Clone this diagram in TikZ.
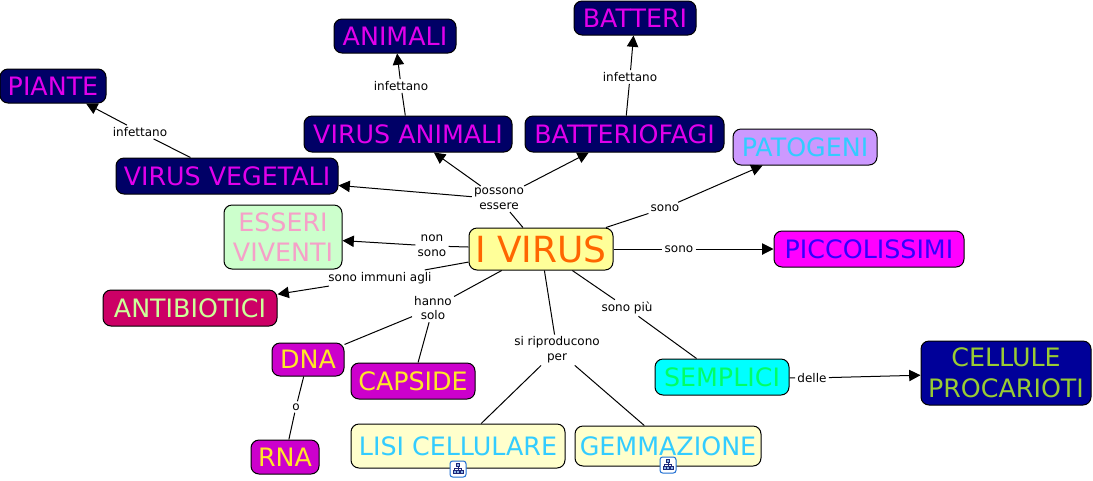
\documentclass[tikz,border=0pt]{standalone}
\usepackage{xcolor}
\usepackage{fontspec}
\setmainfont{DejaVu Sans}
\usetikzlibrary{arrows.meta}
\definecolor{mynavy}{RGB}{0,0,102}
\definecolor{mymagenta}{RGB}{225,0,235}
\definecolor{hdrmint}{RGB}{204,255,204}
\definecolor{mypink}{RGB}{245,160,200}
\definecolor{hdryellow}{RGB}{255,255,153}
\definecolor{myorange}{RGB}{255,102,0}
\definecolor{hdrfuchsia}{RGB}{255,0,255}
\definecolor{myblue}{RGB}{51,0,255}
\definecolor{hdrlilac}{RGB}{204,153,255}
\definecolor{mysky}{RGB}{51,204,255}
\definecolor{hdrcrimson}{RGB}{204,0,102}
\definecolor{mycream}{RGB}{204,255,153}
\definecolor{hdrpurple}{RGB}{204,0,204}
\definecolor{mygold}{RGB}{255,230,40}
\definecolor{hdrcyan}{RGB}{0,255,255}
\definecolor{mygreen}{RGB}{0,255,102}
\definecolor{hdrblue}{RGB}{0,0,153}
\definecolor{myolive}{RGB}{153,204,51}
\definecolor{hdrcream}{RGB}{255,255,204}
\definecolor{myicon}{RGB}{30,110,210}
\definecolor{myicondark}{RGB}{30,40,120}
\tikzset{
  concept/.style={rectangle, draw=black, line width=0.75pt, inner sep=0pt,
    rounded corners=6pt, align=center,
    font=\fontsize{19}{23}\selectfont},
  navybox/.style={concept, fill=mynavy, text=mymagenta},
  purplebox/.style={concept, fill=hdrpurple, text=mygold},
  creambox/.style={concept, fill=hdrcream, text=mysky},
  linklabel/.style={inner sep=1.5pt, align=center,
    font=\fontsize{9}{11}\selectfont},
  arrow/.style={-{Triangle[length=8.5pt,width=8.5pt]}, line width=0.75pt},
  line/.style={line width=0.75pt},
  iconbox/.style={rectangle, draw=myicon, fill=white, line width=0.75pt,
    rounded corners=2pt, minimum size=12pt, inner sep=0pt},
  iconpart/.style={draw=myicondark, line width=0.5pt}
}
\newcommand{\hierarchyicon}[1]{%
  \begin{scope}[shift={(#1)}, iconpart]
    \draw[fill=myicon!50] (-1.6,-5.5) rectangle (1.6,-2.5);
    \draw (0,-2.5) -- (0,-0.5) (-3.5,1.5) -- (-3.5,-0.5) -- (3.5,-0.5) -- (3.5,1.5);
    \draw (0,-0.5) -- (0,1.5);
    \draw[fill=myicon!50] (-5,1.5) rectangle (-2,4.5);
    \draw[fill=myicon!50] (2,1.5) rectangle (5,4.5);
    \draw[fill=myicon!50] (-1.2,1.5) rectangle (1.2,4);
  \end{scope}}

\begin{document}
\begin{tikzpicture}[x=0.75pt, y=-0.75pt]
  \useasboundingbox (0,0) rectangle (1093,480);

  % ── Centre ─────────────────────────────────────────────────────────
  \node[concept, fill=hdryellow, text=myorange, font=\fontsize{27}{30}\selectfont,
    minimum width=108pt, minimum height=31.5pt] (virus) at (541,249) {I VIRUS};

  % ── Upper concepts ─────────────────────────────────────────────────
  \node[navybox, minimum width=79.5pt, minimum height=25.5pt] (piante) at (53,86) {PIANTE};
  \node[navybox, minimum width=91.5pt, minimum height=25.5pt] (animali) at (395,36) {ANIMALI};
  \node[navybox, minimum width=91.5pt, minimum height=25.5pt] (batteri) at (635,18) {BATTERI};
  \node[navybox, minimum width=156pt, minimum height=27pt] (virusanimali) at (408,134) {VIRUS ANIMALI};
  \node[navybox, minimum width=149.25pt, minimum height=27pt] (batteriofagi) at (624.5,134) {BATTERIOFAGI};
  \node[navybox, minimum width=166.5pt, minimum height=27pt] (virusvegetali) at (227,176) {VIRUS VEGETALI};
  \node[concept, fill=hdrlilac, text=mysky, minimum width=108pt, minimum height=27pt]
    (patogeni) at (805,147) {PATOGENI};

  % ── Side concepts ──────────────────────────────────────────────────
  \node[concept, fill=hdrmint, text=mypink, minimum width=88.5pt, minimum height=48pt]
    (esseri) at (283,237) {ESSERI\\VIVENTI};
  \node[concept, fill=hdrfuchsia, text=myblue, minimum width=142.5pt, minimum height=27pt]
    (piccolissimi) at (869,249) {PICCOLISSIMI};
  \node[concept, fill=hdrcrimson, text=mycream, minimum width=130.5pt, minimum height=27pt]
    (antibiotici) at (190,308) {ANTIBIOTICI};

  % ── Lower concepts ─────────────────────────────────────────────────
  \node[purplebox, minimum width=54pt, minimum height=24.75pt] (dna) at (308,359.5) {DNA};
  \node[purplebox, minimum width=93pt, minimum height=27pt] (capside) at (413,381) {CAPSIDE};
  \node[purplebox, minimum width=51pt, minimum height=25.5pt] (rna) at (285,457) {RNA};
  \node[concept, fill=hdrcyan, text=mygreen, minimum width=100.5pt, minimum height=27pt]
    (semplici) at (722,377) {SEMPLICI};
  \node[concept, fill=hdrblue, text=myolive, minimum width=127.5pt, minimum height=48pt]
    (cellule) at (1006,373) {CELLULE\\PROCARIOTI};
  \node[creambox, minimum width=160.5pt, minimum height=33pt] (lisi) at (458,446) {LISI CELLULARE};
  \node[creambox, minimum width=139.5pt, minimum height=30pt] (gemmazione) at (668,446) {GEMMAZIONE};

  % ── Linking phrases ────────────────────────────────────────────────
  \node[linklabel] (possono) at (499,199) {possono\\essere};
  \node[linklabel] (nonsono) at (432,246) {non\\sono};
  \node[linklabel] (immuni) at (380,278) {sono immuni agli};
  \node[linklabel] (hanno) at (433,308) {hanno\\solo};
  \node[linklabel] (riproducono) at (557,350) {si riproducono\\per};
  \node[linklabel] (sonopiu) at (627,308) {sono più};
  \node[linklabel] (sonopat) at (665,208) {sono};
  \node[linklabel] (sonopic) at (679,249) {sono};
  \node[linklabel] (delle) at (812,378) {delle};
  \node[linklabel] (infani) at (401,86) {infettano};
  \node[linklabel] (infbat) at (630,77) {infettano};
  \node[linklabel] (infpia) at (140,132) {infettano};
  \node[linklabel] (oppure) at (296,407) {o};

  % ── Plain connectors ───────────────────────────────────────────────
  \foreach \from/\to in {virus/possono, virus/nonsono, virus/immuni, virus/hanno,
      virus/riproducono, virus/sonopiu, virus/sonopat, virus/sonopic, semplici/delle,
      virusanimali/infani, batteriofagi/infbat, virusvegetali/infpia,
      hanno/dna, hanno/capside, riproducono/lisi, riproducono/gemmazione,
      sonopiu/semplici, dna/oppure, oppure/rna}
    \draw[line] (\from) -- (\to);

  % ── Arrows ─────────────────────────────────────────────────────────
  \foreach \from/\to in {possono/virusanimali, possono/batteriofagi, possono/virusvegetali,
      nonsono/esseri, immuni/antibiotici, sonopat/patogeni, sonopic/piccolissimi,
      delle/cellule, infani/animali, infbat/batteri, infpia/piante}
    \draw[arrow] (\from) -- (\to);

  % ── Map icons ──────────────────────────────────────────────────────
  \node[iconbox] (lisiicon) at (458,469) {};
  \hierarchyicon{lisiicon}
  \node[iconbox] (gemmaicon) at (668,465) {};
  \hierarchyicon{gemmaicon}
\end{tikzpicture}
\end{document}
